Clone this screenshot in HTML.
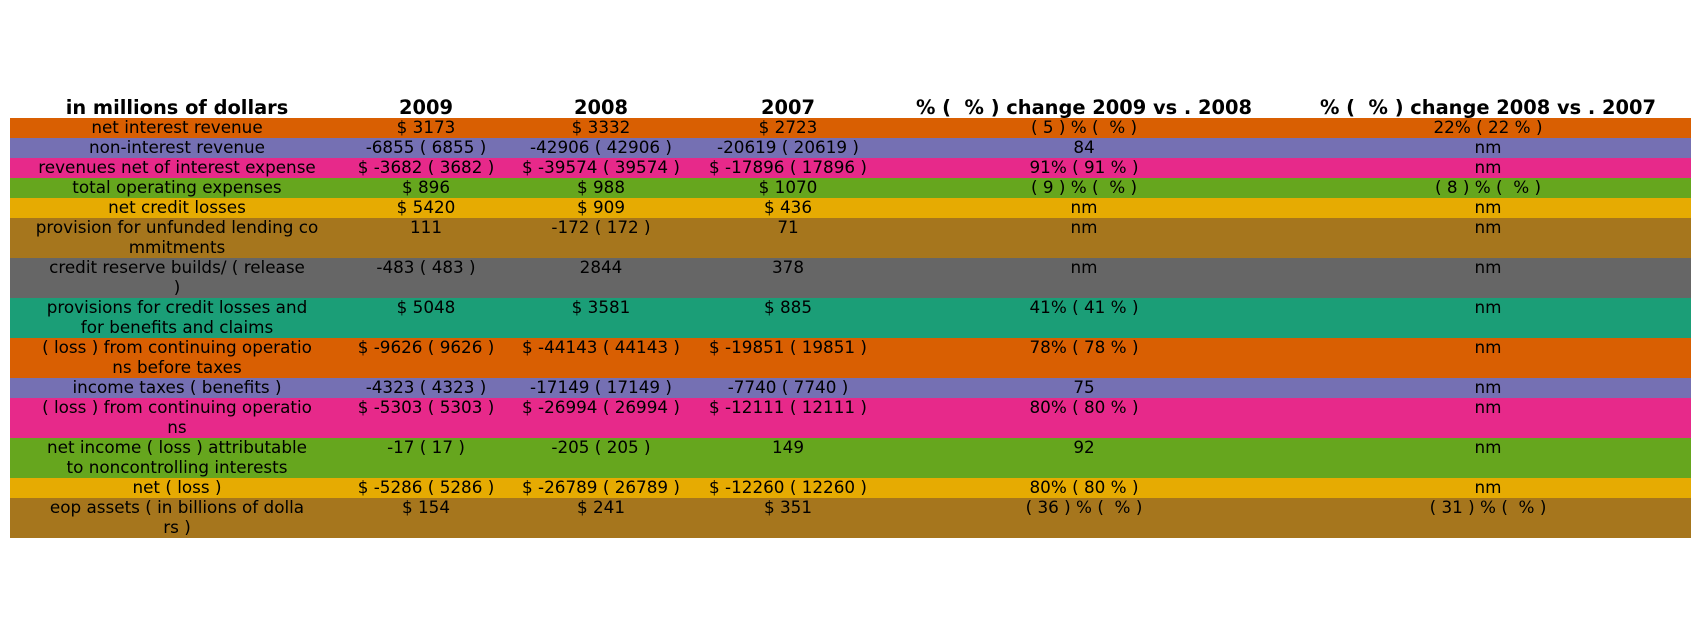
<!DOCTYPE html>
<html><head><meta charset="utf-8"><style>
html,body{margin:0;padding:0;background:#fff;}
#t{position:relative;width:1700px;height:636px;font-family:"DejaVu Sans","Liberation Sans",sans-serif;color:#000;}
.h{position:absolute;top:96px;height:24px;line-height:24px;text-align:center;font-weight:bold;font-size:19.4px;white-space:pre;}
.r{position:absolute;left:10px;width:1681px;}
.c{position:absolute;top:0;text-align:center;font-size:16.8px;line-height:19.5px;white-space:pre;}
</style></head><body>
<div id="t"></div>
<script>
const cols=[[10,334],[344,164],[508,186],[694,188],[882,404],[1286,404]];
const headers=["in millions of dollars","2009","2008","2007","% (  % ) change 2009 vs . 2008","% (  % ) change 2008 vs . 2007"];
const rows=[
["net interest revenue","$ 3173","$ 3332","$ 2723","( 5 ) % (  % )","22% ( 22 % )"],
["non-interest revenue","-6855 ( 6855 )","-42906 ( 42906 )","-20619 ( 20619 )","84","nm"],
["revenues net of interest expense","$ -3682 ( 3682 )","$ -39574 ( 39574 )","$ -17896 ( 17896 )","91% ( 91 % )","nm"],
["total operating expenses","$ 896","$ 988","$ 1070","( 9 ) % (  % )","( 8 ) % (  % )"],
["net credit losses","$ 5420","$ 909","$ 436","nm","nm"],
["provision for unfunded lending co\nmmitments","111","-172 ( 172 )","71","nm","nm"],
["credit reserve builds/ ( release\n)","-483 ( 483 )","2844","378","nm","nm"],
["provisions for credit losses and\nfor benefits and claims","$ 5048","$ 3581","$ 885","41% ( 41 % )","nm"],
["( loss ) from continuing operatio\nns before taxes","$ -9626 ( 9626 )","$ -44143 ( 44143 )","$ -19851 ( 19851 )","78% ( 78 % )","nm"],
["income taxes ( benefits )","-4323 ( 4323 )","-17149 ( 17149 )","-7740 ( 7740 )","75","nm"],
["( loss ) from continuing operatio\nns","$ -5303 ( 5303 )","$ -26994 ( 26994 )","$ -12111 ( 12111 )","80% ( 80 % )","nm"],
["net income ( loss ) attributable\nto noncontrolling interests","-17 ( 17 )","-205 ( 205 )","149","92","nm"],
["net ( loss )","$ -5286 ( 5286 )","$ -26789 ( 26789 )","$ -12260 ( 12260 )","80% ( 80 % )","nm"],
["eop assets ( in billions of dolla\nrs )","$ 154","$ 241","$ 351","( 36 ) % (  % )","( 31 ) % (  % )"]
];
const colors=["#d95f02","#7570b3","#e7298a","#66a61e","#e6ab02","#a6761d","#666666","#1b9e77"];
const t=document.getElementById('t');
headers.forEach((h,i)=>{
 const d=document.createElement('div');
 
 
 d.className='h';d.style.left=cols[i][0]+'px';d.style.width=cols[i][1]+'px';d.textContent=h;t.appendChild(d);
});
let y=118;
rows.forEach((r,ri)=>{
 const two=r[0].includes('\n');const hgt=two?40:20;
 const row=document.createElement('div');
 
 
 row.className='r';row.style.top=y+'px';row.style.height=hgt+'px';row.style.background=colors[ri%8];
 r.forEach((v,ci)=>{
  const c=document.createElement('div');
  
  
  c.className='c';c.style.left=(cols[ci][0]-10)+'px';c.style.width=cols[ci][1]+'px';c.textContent=v;row.appendChild(c);
 });
 t.appendChild(row);y+=hgt;
});
</script>
</body></html>
